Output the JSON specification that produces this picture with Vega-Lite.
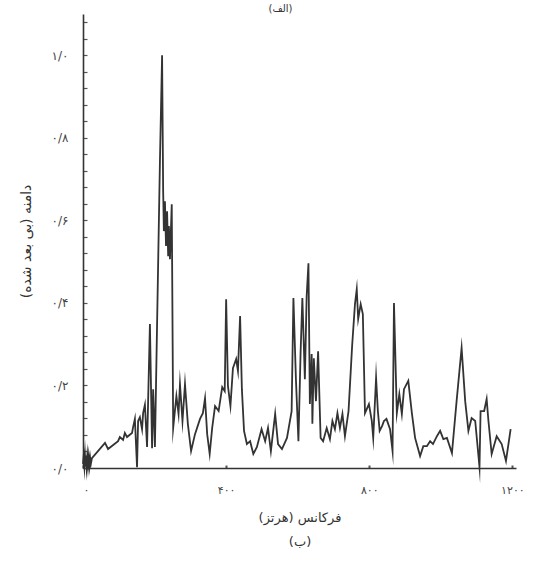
{
  "$schema": "https://vega.github.io/schema/vega-lite/v6.json",
  "autosize": "none",
  "padding": {"left": 83, "top": 14, "right": 21, "bottom": 94},
  "width": 433,
  "height": 454,
  "background": "white",
  "title": {
    "text": "(الف)",
    "anchor": "middle",
    "dx": -19,
    "offset": 0,
    "font": "DejaVu Sans",
    "fontSize": 10,
    "fontWeight": "normal",
    "color": "#333"
  },
  "data": {
    "values": [
      {"f": 0, "a": 0.010}, {"f": 2, "a": 0.030}, {"f": 4, "a": 0.004}, {"f": 5.6, "a": 0.028},
      {"f": 7, "a": 0.003}, {"f": 8.4, "a": 0.030}, {"f": 10, "a": 0.004}, {"f": 12, "a": 0.029},
      {"f": 14, "a": 0.005}, {"f": 16, "a": 0.027}, {"f": 18, "a": 0.006}, {"f": 20, "a": 0.024},
      {"f": 22, "a": 0.010}, {"f": 25, "a": 0.024}, {"f": 61.5, "a": 0.061}, {"f": 70, "a": 0.046},
      {"f": 98, "a": 0.065}, {"f": 103, "a": 0.075}, {"f": 112, "a": 0.068}, {"f": 117, "a": 0.085},
      {"f": 123, "a": 0.075}, {"f": 137, "a": 0.085}, {"f": 140, "a": 0.099}, {"f": 145, "a": 0.119},
      {"f": 151, "a": 0.002}, {"f": 154, "a": 0.114}, {"f": 159, "a": 0.123}, {"f": 165, "a": 0.094},
      {"f": 168, "a": 0.133}, {"f": 173, "a": 0.153}, {"f": 179, "a": 0.051}, {"f": 182, "a": 0.162},
      {"f": 187, "a": 0.349}, {"f": 193, "a": 0.048}, {"f": 196, "a": 0.191}, {"f": 201, "a": 0.051},
      {"f": 215, "a": 0.743}, {"f": 221, "a": 1.0}, {"f": 224, "a": 0.671}, {"f": 226, "a": 0.574},
      {"f": 229, "a": 0.646}, {"f": 232, "a": 0.538}, {"f": 235, "a": 0.622}, {"f": 238, "a": 0.513},
      {"f": 240, "a": 0.586}, {"f": 243, "a": 0.506}, {"f": 248, "a": 0.639}, {"f": 252, "a": 0.097},
      {"f": 261, "a": 0.174}, {"f": 267, "a": 0.131}, {"f": 271, "a": 0.203}, {"f": 278, "a": 0.114},
      {"f": 285, "a": 0.203}, {"f": 293, "a": 0.107}, {"f": 302, "a": 0.041}, {"f": 313, "a": 0.082},
      {"f": 327, "a": 0.119}, {"f": 335, "a": 0.133}, {"f": 341, "a": 0.169}, {"f": 347, "a": 0.082},
      {"f": 354, "a": 0.034}, {"f": 361, "a": 0.097}, {"f": 369, "a": 0.150}, {"f": 379, "a": 0.138},
      {"f": 389, "a": 0.196}, {"f": 396, "a": 0.186}, {"f": 400, "a": 0.409}, {"f": 405, "a": 0.199},
      {"f": 412, "a": 0.150}, {"f": 419, "a": 0.242}, {"f": 428, "a": 0.264}, {"f": 433, "a": 0.235},
      {"f": 439, "a": 0.368}, {"f": 444, "a": 0.191}, {"f": 450, "a": 0.090}, {"f": 458, "a": 0.058},
      {"f": 467, "a": 0.065}, {"f": 476, "a": 0.034}, {"f": 486, "a": 0.051}, {"f": 499, "a": 0.094},
      {"f": 509, "a": 0.065}, {"f": 517, "a": 0.097}, {"f": 525, "a": 0.041}, {"f": 537, "a": 0.131},
      {"f": 545, "a": 0.058}, {"f": 556, "a": 0.046}, {"f": 570, "a": 0.073}, {"f": 583, "a": 0.138},
      {"f": 588, "a": 0.412}, {"f": 595, "a": 0.215}, {"f": 602, "a": 0.065}, {"f": 608, "a": 0.278},
      {"f": 613, "a": 0.412}, {"f": 620, "a": 0.215}, {"f": 625, "a": 0.416}, {"f": 630, "a": 0.496},
      {"f": 634, "a": 0.155}, {"f": 639, "a": 0.276}, {"f": 641, "a": 0.107}, {"f": 645, "a": 0.266},
      {"f": 651, "a": 0.162}, {"f": 657, "a": 0.283}, {"f": 664, "a": 0.073}, {"f": 671, "a": 0.065},
      {"f": 681, "a": 0.097}, {"f": 690, "a": 0.070}, {"f": 697, "a": 0.114}, {"f": 704, "a": 0.094},
      {"f": 711, "a": 0.133}, {"f": 718, "a": 0.097}, {"f": 725, "a": 0.131}, {"f": 732, "a": 0.077},
      {"f": 742, "a": 0.138}, {"f": 752, "a": 0.295}, {"f": 760, "a": 0.397}, {"f": 765, "a": 0.433},
      {"f": 769, "a": 0.361}, {"f": 776, "a": 0.397}, {"f": 782, "a": 0.373}, {"f": 788, "a": 0.133},
      {"f": 799, "a": 0.155}, {"f": 807, "a": 0.114}, {"f": 811, "a": 0.073}, {"f": 819, "a": 0.218},
      {"f": 824, "a": 0.138}, {"f": 829, "a": 0.090}, {"f": 836, "a": 0.102}, {"f": 841, "a": 0.114},
      {"f": 848, "a": 0.119}, {"f": 858, "a": 0.094}, {"f": 865, "a": 0.041}, {"f": 869, "a": 0.400},
      {"f": 877, "a": 0.133}, {"f": 884, "a": 0.179}, {"f": 891, "a": 0.131}, {"f": 897, "a": 0.191},
      {"f": 909, "a": 0.211}, {"f": 919, "a": 0.133}, {"f": 928, "a": 0.073}, {"f": 942, "a": 0.029},
      {"f": 951, "a": 0.053}, {"f": 961, "a": 0.053}, {"f": 970, "a": 0.065}, {"f": 978, "a": 0.058},
      {"f": 989, "a": 0.077}, {"f": 998, "a": 0.090}, {"f": 1007, "a": 0.070}, {"f": 1017, "a": 0.073},
      {"f": 1031, "a": 0.036}, {"f": 1044, "a": 0.162}, {"f": 1058, "a": 0.291}, {"f": 1068, "a": 0.162},
      {"f": 1077, "a": 0.090}, {"f": 1086, "a": 0.121}, {"f": 1096, "a": 0.114}, {"f": 1108, "a": 0.002},
      {"f": 1111, "a": 0.138}, {"f": 1121, "a": 0.138}, {"f": 1128, "a": 0.167}, {"f": 1133, "a": 0.114},
      {"f": 1142, "a": 0.034}, {"f": 1156, "a": 0.077}, {"f": 1170, "a": 0.058}, {"f": 1182, "a": 0.017},
      {"f": 1195, "a": 0.094}
    ]
  },
  "mark": {"type": "line", "color": "#333333", "strokeWidth": 1.8, "strokeJoin": "miter", "strokeMiterLimit": 20},
  "encoding": {
    "x": {
      "field": "f",
      "type": "quantitative",
      "scale": {"domain": [0, 1210], "nice": false, "zero": false},
      "axis": {
        "values": [0, 400, 800, 1200],
        "labelExpr": "['۰','۴۰۰','۸۰۰','۱۲۰۰'][round(datum.value/400)]",
        "grid": false,
        "tickSize": -3,
        "tickWidth": 2,
        "tickColor": "#555",
        "domainColor": "#333",
        "domainWidth": 1.6,
        "labelPadding": 19,
        "labelFont": "DejaVu Sans",
        "labelFontSize": 11,
        "labelColor": "#444",
        "title": ["فرکانس (هرتز)", "(ب)"],
        "titleFont": "DejaVu Sans",
        "titleFontSize": 13,
        "titleFontWeight": "normal",
        "titleColor": "#333",
        "titleLineHeight": 24,
        "titlePadding": 16
      }
    },
    "y": {
      "field": "a",
      "type": "quantitative",
      "scale": {"domain": [0, 1.1], "nice": false, "zero": false},
      "axis": {
        "values": [0, 0.04, 0.08, 0.12, 0.16, 0.2, 0.24, 0.28, 0.32, 0.36, 0.4, 0.44, 0.48, 0.52, 0.56, 0.6, 0.64, 0.68, 0.72, 0.76, 0.8, 0.84, 0.88, 0.92, 0.96, 1.0, 1.04, 1.08],
        "labelExpr": "abs(datum.value*5 - round(datum.value*5)) < 0.001 ? ['۰/۰','۰/۲','۰/۴','۰/۶','۰/۸','۱/۰'][round(datum.value*5)] : ''",
        "grid": false,
        "tickSize": -4,
        "tickWidth": 1.2,
        "tickColor": "#555",
        "domainColor": "#333",
        "domainWidth": 1.6,
        "labelPadding": 19,
        "labelFont": "DejaVu Sans",
        "labelFontSize": 12,
        "labelColor": "#444",
        "title": "دامنه (بی بعد شده)",
        "titleFont": "DejaVu Sans",
        "titleFontSize": 14,
        "titleFontWeight": "normal",
        "titleColor": "#333",
        "titlePadding": 18
      }
    }
  },
  "config": {"view": {"stroke": null}}
}
